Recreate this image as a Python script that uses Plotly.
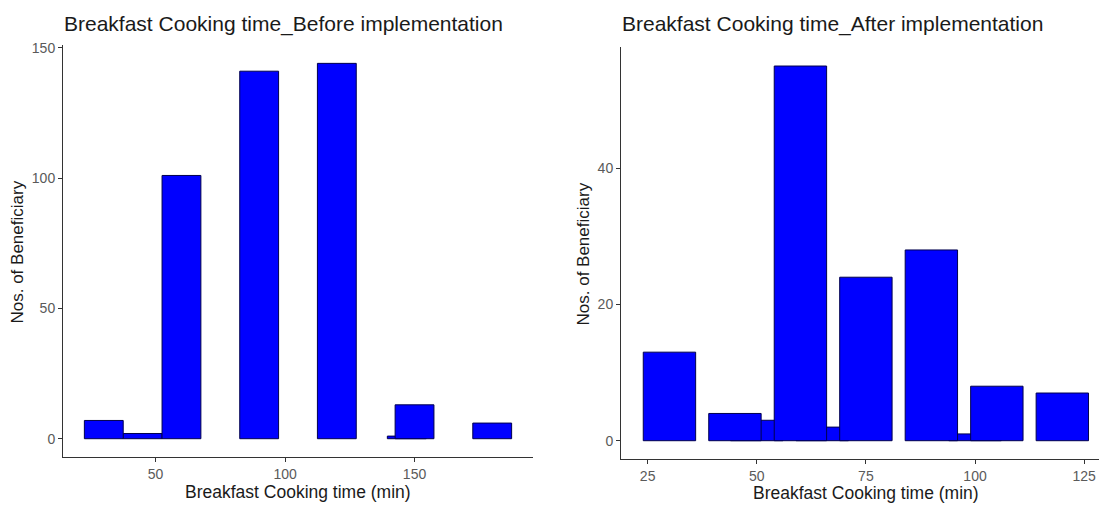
import plotly.graph_objects as go

# Breakfast cooking time (min) and number of beneficiaries, before implementation
before_time = [30, 45, 60, 90, 120, 147, 150, 180]
before_count = [7, 2, 101, 141, 144, 1, 13, 6]

# Breakfast cooking time (min) and number of beneficiaries, after implementation
after_time = [30, 45, 50, 60, 65, 75, 90, 100, 105, 120]
after_count = [13, 4, 3, 55, 2, 24, 28, 1, 8, 7]

before_xticks = [50, 100, 150]
before_yticks = [0, 50, 100, 150]
after_xticks = [25, 50, 75, 100, 125]
after_yticks = [0, 20, 40]

W, H = 1099, 505
FILL = "#0000FF"
EDGE = "#00004d"
FONT = "Liberation Sans, Arial, sans-serif"


def by_count(times, counts):
    # smaller bars first so taller neighbours are drawn on top of them
    pairs = sorted(zip(times, counts), key=lambda p: p[1])
    return [p[0] for p in pairs], [p[1] for p in pairs]


fig = go.Figure()

bx, by = by_count(before_time, before_count)
fig.add_trace(go.Bar(x=bx, y=by, width=15, marker=dict(color=FILL, line=dict(color=EDGE, width=1)),
                     xaxis="x", yaxis="y", showlegend=False))

ax, ay = by_count(after_time, after_count)
fig.add_trace(go.Bar(x=ax, y=ay, width=12, marker=dict(color=FILL, line=dict(color=EDGE, width=1)),
                     xaxis="x2", yaxis="y2", showlegend=False))


def px_x(p):
    return p / W


def px_y(p):
    return 1 - p / H


axis_common = dict(
    showline=True, linecolor="#333333", linewidth=1,
    ticks="outside", ticklen=4, tickcolor="#333333", tickwidth=1,
    showgrid=False, zeroline=False,
    tickfont=dict(family=FONT, size=14, color="#5a5a5a"),
)

fig.update_layout(
    width=W, height=H,
    margin=dict(l=0, r=0, t=0, b=0),
    paper_bgcolor="white", plot_bgcolor="white",
    barmode="overlay",
    font=dict(family=FONT),
    xaxis=dict(domain=[px_x(63), px_x(533)], range=[14.25, 195.75], tickvals=before_xticks,
               anchor="y", **axis_common),
    yaxis=dict(domain=[px_y(457), px_y(40)], range=[-7.2, 151.2], tickvals=before_yticks,
               anchor="x", **axis_common),
    xaxis2=dict(domain=[px_x(621), 1.0], range=[18.9, 128.4], tickvals=after_xticks,
                anchor="y2", **axis_common),
    yaxis2=dict(domain=[px_y(459), px_y(42.7)], range=[-2.75, 57.75], tickvals=after_yticks,
                anchor="x2", **axis_common),
)

annotations = [
    dict(text="Breakfast Cooking time_Before implementation", x=px_x(62), y=px_y(19),
         xanchor="left", yanchor="middle", font=dict(size=21, color="#1a1a1a")),
    dict(text="Breakfast Cooking time_After implementation", x=px_x(620), y=px_y(19),
         xanchor="left", yanchor="middle", font=dict(size=21, color="#1a1a1a")),
    dict(text="Breakfast Cooking time (min)", x=px_x(298), y=px_y(492),
         xanchor="center", yanchor="middle", font=dict(size=17.5, color="#1a1a1a")),
    dict(text="Breakfast Cooking time (min)", x=px_x(866), y=px_y(493),
         xanchor="center", yanchor="middle", font=dict(size=17.5, color="#1a1a1a")),
    dict(text="Nos. of Beneficiary", x=px_x(18), y=px_y(250), textangle=-90,
         xanchor="center", yanchor="middle", font=dict(size=17, color="#1a1a1a")),
    dict(text="Nos. of Beneficiary", x=px_x(584), y=px_y(252), textangle=-90,
         xanchor="center", yanchor="middle", font=dict(size=17, color="#1a1a1a")),
]
for a in annotations:
    a.update(xref="paper", yref="paper", showarrow=False)
fig.update_layout(annotations=annotations)

fig.write_html("out.html")
